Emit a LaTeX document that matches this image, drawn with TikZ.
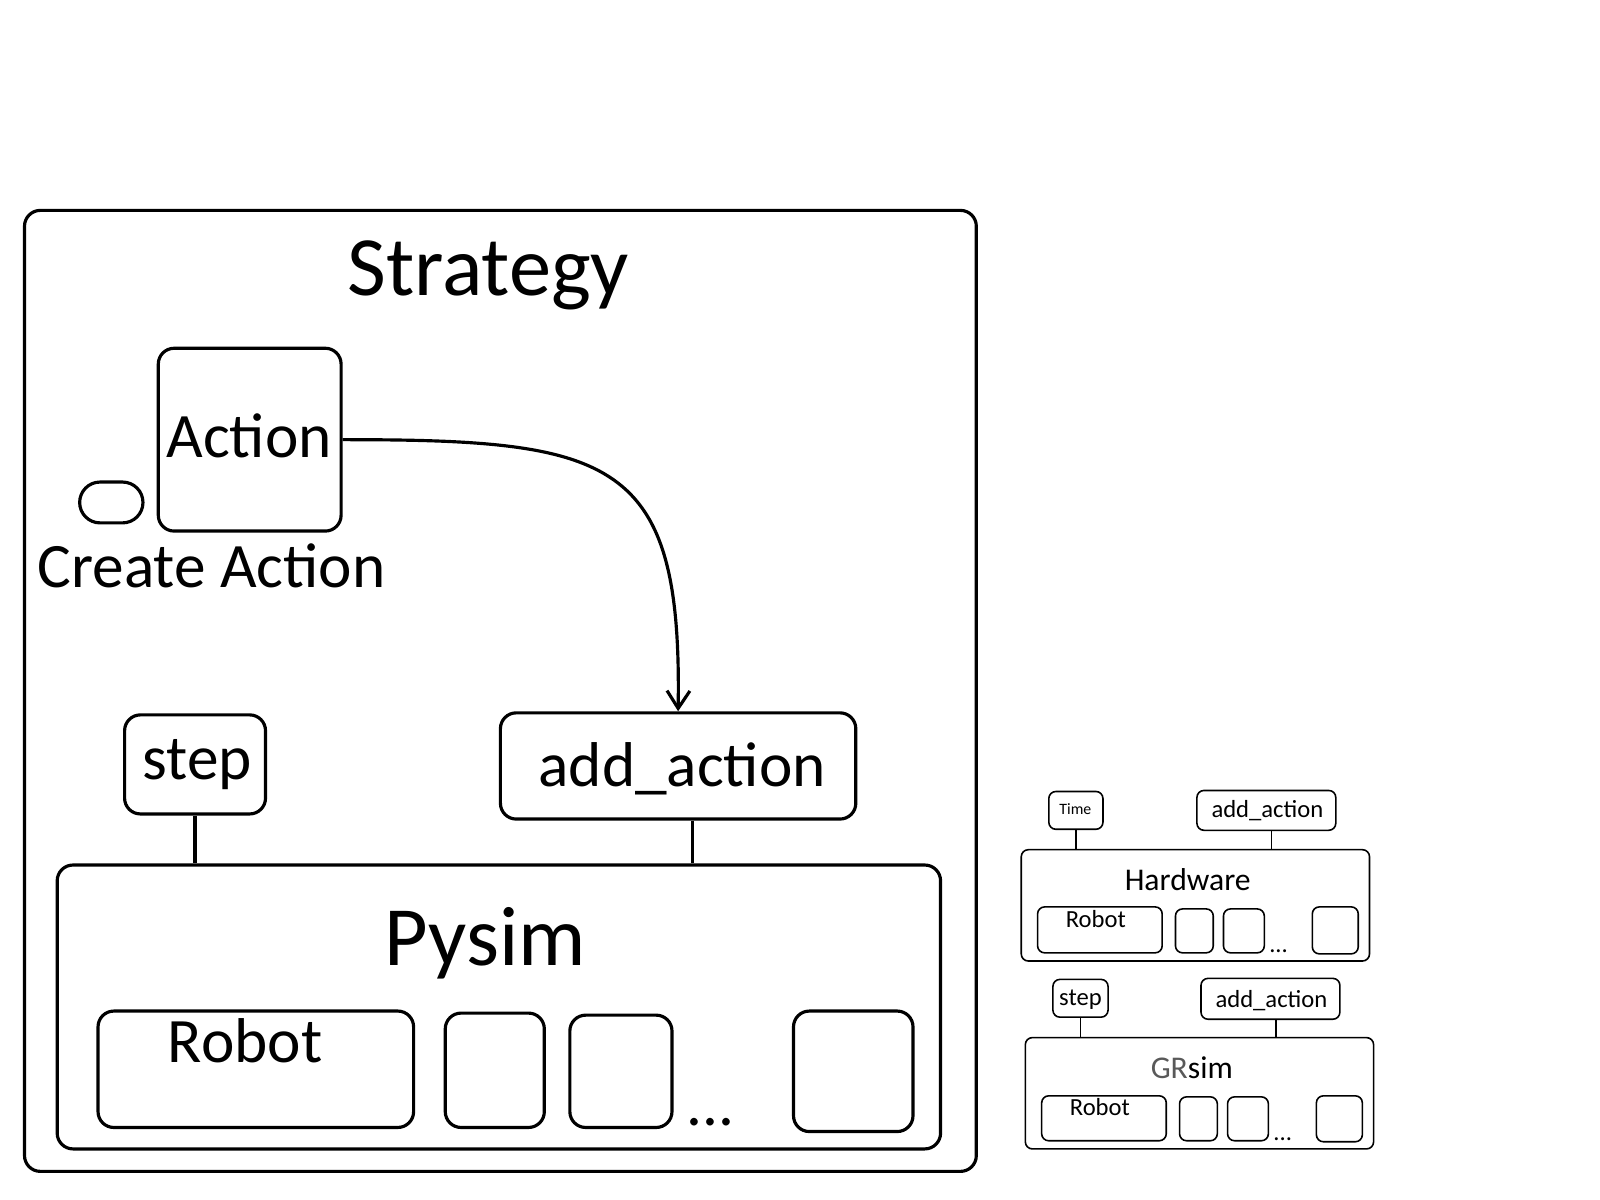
\documentclass[tikz,border=0pt]{standalone}
\usepackage{fontspec}
\setmainfont{Carlito}
\usetikzlibrary{fit,arrows.meta}
\begin{document}
\begin{tikzpicture}[x=0.010212cm,y=-0.010212cm,
  box/.style={draw,line width=0.9pt,rounded corners=4.5pt,inner sep=0pt},
  sbox/.style={draw,line width=0.45pt,rounded corners=2pt,inner sep=0pt},
  huge/.style={anchor=base,inner sep=0pt,font=\fontsize{24}{28}\selectfont},
  big/.style={anchor=base,inner sep=0pt,font=\fontsize{18}{21}\selectfont},
  mid/.style={anchor=base,inner sep=0pt,font=\fontsize{9}{11}\selectfont},
  tiny/.style={anchor=base,inner sep=0pt,font=\fontsize{7}{8}\selectfont}]
\useasboundingbox (0,0) rectangle (1566.7,1175);
% strategy
\node[box,fit={(24,206) (956,1147)}] (strategy) {};
\node[huge] (strategytxt) at (478,289) {Strategy};
\node[box,fit={(155,341) (334,520)}] (action) {};
\node[big] (actiontxt) at (244,448) {Action};
\node[box,rounded corners=5.8pt,fit={(78,472) (140,512)}] (create) {};
\node[big] (createtxt) at (207,575) {Create Action};
\node[box,fit={(122,700) (260,797)}] (step) {};
\node[big] (steptxt) at (193,763) {step};
\node[box,fit={(490,698) (838,802)}] (addact) {};
\node[big] (addacttxt) at (668,770) {add\_action};
\node[box,fit={(56,847) (921,1125)}] (pysim) {};
\node[huge] (pysimtxt) at (475,945) {Pysim};
\node[box,fit={(96,990) (405,1104)}] (robot) {};
\node[big] (robottxt) at (240,1040) {Robot};
\node[box,fit={(436,992) (533,1104)}] (robotb) {};
\node[box,fit={(558,994) (658,1104)}] (robotc) {};
\node[box,fit={(777,990) (894,1108)}] (robotn) {};
\node[big] (dots) at (696,1102) {...};
\draw[line width=0.9pt] (step.south) -- (step.south |- pysim.north);
\draw[line width=0.9pt] ([xshift=4pt]addact.south) -- ([xshift=4pt]addact.south |- pysim.north);
\draw[line width=0.9pt,-{Straight Barb[length=5pt,width=6.5pt]}] (action.east) .. controls +(266,0) and +(4,-248) .. (addact.north);
% hardware
\begin{scope}[shift={(1000,832)}]
\node[sbox,fit={(27,-57) (80,-20)}] (time) {};
\node[tiny,font=\fontsize{4.5}{5}\selectfont] (timetxt) at (53,-34) {Time};
\node[sbox,fit={(172,-58) (308,-19)}] (hwadd) {};
\node[tiny] (hwaddtxt) at (241,-32) {add\_action};
\node[sbox,fit={(0,0) (341,109)}] (hw) {};
\node[mid] (hwtxt) at (163,40) {Hardware};
\node[sbox,fit={(16,56) (138,101)}] (hwrobot) {};
\node[tiny] (hwrobottxt) at (73,76) {Robot};
\node[sbox,fit={(151,58) (188,101)}] (hwrobotb) {};
\node[sbox,fit={(198,58) (238,101)}] (hwrobotc) {};
\node[sbox,fit={(285,56) (330,102)}] (hwrobotn) {};
\node[tiny] (hwdots) at (252,101) {...};
\draw[line width=0.45pt] (time.south) -- (time.south |- hw.north);
\draw[line width=0.45pt] ([xshift=1.5pt]hwadd.south) -- ([xshift=1.5pt]hwadd.south |- hw.north);
\end{scope}
% grsim
\begin{scope}[shift={(1004,1016)}]
\node[sbox,fit={(27,-57) (81,-20)}] (grstep) {};
\node[tiny] (grsteptxt) at (54,-31) {step};
\node[sbox,fit={(172,-58) (308,-18)}] (gradd) {};
\node[tiny] (graddtxt) at (241,-29) {add\_action};
\node[sbox,fit={(0,0) (341,109)}] (gr) {};
\node[mid] (grtxt) at (163,40) {\textcolor{black!65}{GR}sim};
\node[sbox,fit={(16,57) (138,101)}] (grrobot) {};
\node[tiny] (grrobottxt) at (73,76) {Robot};
\node[sbox,fit={(151,58) (188,101)}] (grrobotb) {};
\node[sbox,fit={(198,58) (238,101)}] (grrobotc) {};
\node[sbox,fit={(285,57) (330,102)}] (grrobotn) {};
\node[tiny] (grdots) at (252,101) {...};
\draw[line width=0.45pt] (grstep.south) -- (grstep.south |- gr.north);
\draw[line width=0.45pt] ([xshift=1.5pt]gradd.south) -- ([xshift=1.5pt]gradd.south |- gr.north);
\end{scope}
\end{tikzpicture}
\end{document}
